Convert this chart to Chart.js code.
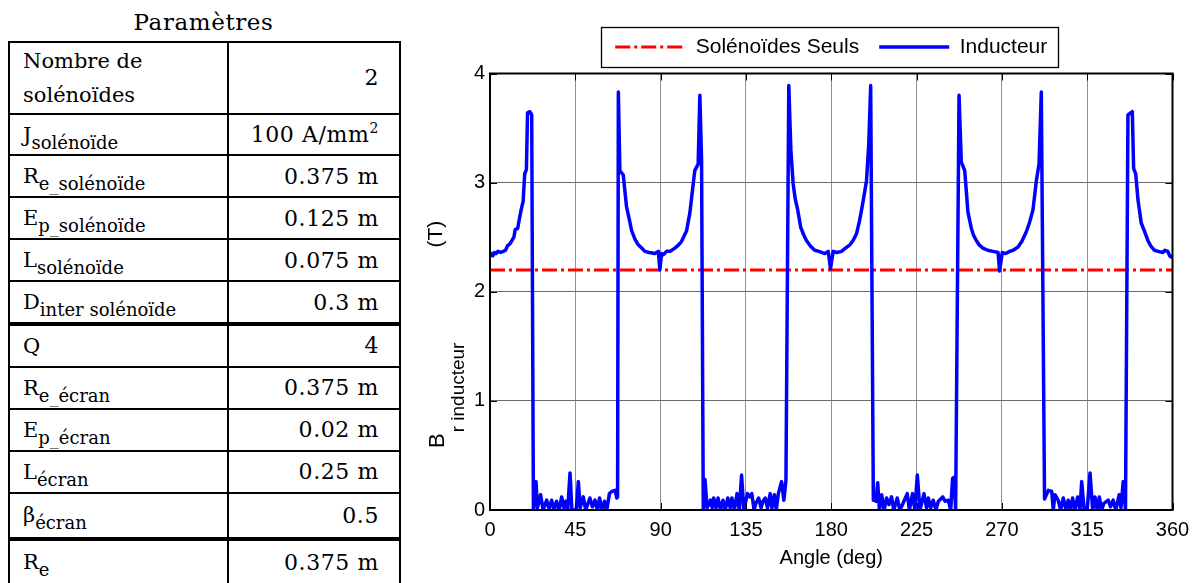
<!DOCTYPE html>
<html lang="fr">
<head>
<meta charset="utf-8">
<title>B r inducteur</title>
<script src="https://cdn.jsdelivr.net/npm/chart.js@4.4.1/dist/chart.umd.min.js"></script>
<style>
  html, body { margin: 0; padding: 0; background: #fff; }
  body { width: 1202px; height: 583px; position: relative; overflow: hidden; }
  #params-title {
    position: absolute; left: 8px; width: 391px; top: 8px;
    text-align: center; font: 23px/28px "DejaVu Serif", serif; color: #000; letter-spacing: 0.6px;
  }
  #params {
    position: absolute; left: 8px; top: 41px;
    border-collapse: collapse; table-layout: fixed; width: 391px;
    font-family: "DejaVu Serif", serif; color: #000;
  }
  #params td { border: 2px solid #000; padding: 0; height: 39.9px; vertical-align: middle; }
  #params tr.first td { height: 69.6px; }
  #params tr.tall td { height: 43px; }
  #params tr.last td { height: 43px; padding-bottom: 12px; }
  #params tr.sep td { border-bottom-width: 4px; }
  #params td.lbl { padding-left: 13px; font-size: 21px; text-align: left; }
  #params td.val { padding-right: 20px; font-size: 22px; text-align: right; letter-spacing: 0.6px; }
  #params td.two { line-height: 34px; }
  #params sub { font-size: 18px; vertical-align: -7px; line-height: 0; }
  #params sup { font-size: 14px; vertical-align: 9px; line-height: 0; }
  #chart-box { position: absolute; left: 400px; top: 0; width: 802px; height: 583px; }
</style>
</head>
<body>
<div id="params-title">Paramètres</div>
<table id="params">
  <colgroup><col style="width:219px"><col style="width:172px"></colgroup>
  <tbody>
    <tr class="first"><td class="lbl two">Nombre de<br>solénoïdes</td><td class="val">2</td></tr>
    <tr><td class="lbl">J<sub>solénoïde</sub></td><td class="val">100 A/mm<sup>2</sup></td></tr>
    <tr><td class="lbl">R<sub>e_solénoïde</sub></td><td class="val">0.375 m</td></tr>
    <tr><td class="lbl">E<sub>p_solénoïde</sub></td><td class="val">0.125 m</td></tr>
    <tr><td class="lbl">L<sub>solénoïde</sub></td><td class="val">0.075 m</td></tr>
    <tr class="sep"><td class="lbl">D<sub>inter solénoïde</sub></td><td class="val">0.3 m</td></tr>
    <tr><td class="lbl">Q</td><td class="val">4</td></tr>
    <tr><td class="lbl">R<sub>e_écran</sub></td><td class="val">0.375 m</td></tr>
    <tr><td class="lbl">E<sub>p_écran</sub></td><td class="val">0.02 m</td></tr>
    <tr><td class="lbl">L<sub>écran</sub></td><td class="val">0.25 m</td></tr>
    <tr class="sep tall"><td class="lbl">β<sub>écran</sub></td><td class="val">0.5</td></tr>
    <tr class="last"><td class="lbl">R<sub>e</sub></td><td class="val">0.375 m</td></tr>
  </tbody>
</table>

<div id="chart-box"><canvas id="brChart" width="802" height="583"></canvas></div>

<script>
// angle (deg) and radial field of the inductor (T)
const angleDeg = [
  // 0 -> 23
  0, 0.8, 1.5, 2.3, 3.2, 4.2, 5.5, 7.0, 8.2, 9.2, 10.5, 11.6, 12.6, 13.3, 14.6, 15.4, 16.3,
  17.5, 18.3, 19.2, 19.8, 21.0, 22.0, 22.9,
  // 23 -> 67
  24.3, 25.0, 26.7, 28.0, 29.9, 31.2, 32.5, 33.8, 35.1, 36.5, 37.8, 39.0, 39.9, 41.0, 42.2,
  43.2, 45.5, 46.6, 47.6, 49.2, 50.5, 52.7, 54.0, 55.4, 56.6, 57.8, 59.0, 60.4, 61.6, 63.0,
  64.3, 66.0, 66.9, 67.3,
  // 67 -> 112
  67.7, 68.5, 70.3, 72.0, 73.5, 74.7, 76.5, 78.2, 80.0, 81.7, 84.0, 87.0, 88.8, 89.6, 90.5,
  91.5, 93.1, 95.0, 97.5, 99.5, 101.0, 103.7, 105.4, 108.0, 109.8, 110.7, 111.6, 112.5,
  // 112 -> 157
  113.4, 114.5, 116.3, 117.2, 118.0, 119.2, 120.3, 121.6, 122.9, 124.1, 125.4, 126.7, 127.6,
  128.9, 130.3, 131.5, 132.7, 133.9, 135.8, 137.1, 138.1, 139.3, 140.2, 141.7, 143.0, 144.0,
  145.2, 146.4, 147.8, 148.7, 150.0, 151.0, 152.1, 153.8, 155.0, 156.1,
  // 157 -> 202
  157.6, 158.7, 159.9, 161.0, 162.2, 163.9, 165.5, 166.9, 169.0, 171.3, 173.5, 176.6, 178.4,
  179.6, 181.0, 183.0, 185.4, 187.5, 189.8, 191.5, 193.3, 194.8, 196.0, 197.5, 198.6, 199.8,
  200.8, 202.2,
  // 202 -> 247
  203.1, 203.6, 204.5, 205.4, 206.6, 207.9, 209.2, 210.5, 211.8, 213.0, 214.8, 216.2, 217.6,
  220.1, 221.2, 222.9, 224.1, 225.4, 226.8, 228.9, 230.3, 231.2, 232.4, 233.8, 235.2, 236.5,
  238.8, 240.0, 241.7, 243.0, 244.0, 244.7, 245.6,
  // 247 -> 292
  247.4, 248.6, 250.4, 252.1, 253.9, 255.0, 256.5, 258.0, 260.0, 262.5, 265.3, 268.0, 268.8,
  270.2, 272.0, 274.1, 276.0, 278.5, 280.5, 282.9, 284.5, 286.4, 288.2, 289.6, 290.8, 292.5,
  // 292 -> 337
  294.5, 296.3, 297.1, 298.0, 299.7, 301.0, 302.4, 303.8, 305.0, 306.2, 307.3, 308.6, 310.0,
  311.2, 312.1, 313.4, 315.0, 316.5, 317.9, 319.1, 320.3, 321.4, 322.6, 323.8, 326.1, 327.3,
  328.7, 330.1, 331.9, 332.8, 334.0, 335.2,
  // 337 -> 360
  336.5, 338.8, 339.5, 340.6, 341.8, 343.5, 345.3, 347.0, 348.5, 350.5, 352.5, 354.9, 356.0,
  357.5, 358.5, 360
];
const bInducteur = [
  2.32, 2.35, 2.33, 2.36, 2.35, 2.37, 2.36, 2.37, 2.38, 2.42, 2.44, 2.47, 2.50, 2.57, 2.58, 2.66, 2.74,
  2.83, 3.08, 3.12, 3.64, 3.65, 3.62, 0.0,
  0.26, 0.02, 0.14, 0.0, 0.09, 0.01, 0.09, 0.0, 0.08, 0.0, 0.12, 0.02, 0.08, 0.0, 0.34,
  0.0, 0.0, 0.26, 0.02, 0.12, 0.0, 0.11, 0.03, 0.09, 0.0, 0.11, 0.0, 0.08, 0.0, 0.15,
  0.17, 0.18, 0.11, 0.12,
  3.83, 3.11, 3.07, 2.78, 2.66, 2.56, 2.48, 2.43, 2.40, 2.37, 2.36, 2.35, 2.37, 2.20, 2.35,
  2.34, 2.37, 2.37, 2.40, 2.43, 2.46, 2.56, 2.72, 3.11, 3.17, 3.80, 3.20, 0.0,
  0.28, 0.02, 0.09, 0.02, 0.11, 0.02, 0.11, 0.0, 0.09, 0.0, 0.11, 0.02, 0.11,
  0.0, 0.15, 0.0, 0.32, 0.0, 0.15, 0.12, 0.15, 0.0, 0.06, 0.11, 0.02, 0.08,
  0.11, 0.02, 0.15, 0.02, 0.14, 0.0, 0.15, 0.26, 0.09, 0.27,
  3.89, 3.30, 2.99, 2.85, 2.76, 2.59, 2.52, 2.47, 2.42, 2.38, 2.37, 2.35, 2.37,
  2.21, 2.37, 2.36, 2.37, 2.40, 2.43, 2.47, 2.53, 2.64, 2.75, 2.90, 3.02, 3.36,
  3.89, 0.09,
  0.09, 0.08, 0.25, 0.0, 0.14, 0.0, 0.11, 0.05, 0.12, 0.0, 0.11, 0.0, 0.05,
  0.15, 0.0, 0.15, 0.0, 0.32, 0.0, 0.15, 0.02, 0.11, 0.02, 0.09, 0.0, 0.08,
  0.12, 0.08, 0.09, 0.0, 0.29, 0.30, 0.0,
  3.80, 3.19, 3.11, 2.73, 2.58, 2.52, 2.47, 2.43, 2.40, 2.38, 2.37, 2.36, 2.19,
  2.36, 2.35, 2.37, 2.38, 2.41, 2.46, 2.55, 2.63, 2.75, 3.02, 3.17, 3.83, 0.10,
  0.18, 0.17, 0.0, 0.14, 0.09, 0.0, 0.11, 0.0, 0.09, 0.0, 0.11, 0.0, 0.12,
  0.0, 0.26, 0.0, 0.0, 0.34, 0.0, 0.12, 0.0, 0.12, 0.0, 0.06, 0.09, 0.03,
  0.09, 0.0, 0.14, 0.02, 0.26, 0.0,
  3.62, 3.65, 3.13, 3.08, 2.84, 2.63, 2.55, 2.47, 2.42, 2.38, 2.37, 2.36, 2.38,
  2.37, 2.33, 2.31
];
// solenoids alone: flat level
const solenoidAngle = [0, 360];
const solenoidB = [2.2, 2.2];

const xTickValues = [0, 45, 90, 135, 180, 225, 270, 315, 360];
const yTickValues = [0, 1, 2, 3, 4];

const inducteurPoints = angleDeg.map((a, i) => ({ x: a, y: bInducteur[i] }));
const solenoidPoints = solenoidAngle.map((a, i) => ({ x: a, y: solenoidB[i] }));

Chart.defaults.font.family = '"Liberation Sans", Arial, sans-serif';
Chart.defaults.color = '#000';

// box + inward ticks like a matlab axes
const axesFrame = {
  id: 'axesFrame',
  afterDatasetsDraw(chart) {
    const { ctx, chartArea: ca, scales } = chart;
    ctx.save();
    ctx.strokeStyle = '#000';
    ctx.lineWidth = 1;
    ctx.beginPath();
    scales.x.ticks.forEach(t => {
      const px = Math.round(scales.x.getPixelForValue(t.value)) + 0.5;
      ctx.moveTo(px, ca.bottom); ctx.lineTo(px, ca.bottom - 7);
      ctx.moveTo(px, ca.top); ctx.lineTo(px, ca.top + 7);
    });
    scales.y.ticks.forEach(t => {
      const py = Math.round(scales.y.getPixelForValue(t.value)) + 0.5;
      ctx.moveTo(ca.left, py); ctx.lineTo(ca.left + 7, py);
      ctx.moveTo(ca.right, py); ctx.lineTo(ca.right - 7, py);
    });
    ctx.stroke();
    ctx.lineWidth = 2;
    ctx.strokeRect(ca.left, ca.top, ca.right - ca.left, ca.bottom - ca.top);
    ctx.restore();
  }
};

// border round the legend
const legendFrame = {
  id: 'legendFrame',
  afterDraw(chart) {
    const boxes = chart.legend && chart.legend.legendHitBoxes;
    if (!boxes || !boxes.length) return;
    const first = boxes[0], last = boxes[boxes.length - 1];
    const cy = first.top + first.height / 2;
    const left = first.left - 14, right = last.left + last.width + 11;
    const ctx = chart.ctx;
    ctx.save();
    ctx.strokeStyle = '#000';
    ctx.lineWidth = 1.3;
    ctx.strokeRect(Math.round(left) + 0.5, Math.round(cy - 20) + 0.5, Math.round(right - left), 40);
    ctx.restore();
  }
};

// y title with subscript: B_{r inducteur}  (T)
const yTitle = {
  id: 'yTitle',
  afterDraw(chart) {
    const { ctx, chartArea: ca } = chart;
    ctx.save();
    ctx.fillStyle = '#000';
    ctx.textAlign = 'left';
    ctx.textBaseline = 'alphabetic';
    ctx.translate(ca.left - 46, ca.bottom - 62);
    ctx.rotate(-Math.PI / 2);
    ctx.font = '22px "Liberation Sans", Arial, sans-serif';
    ctx.fillText('B', 0, 0);
    const bw = ctx.measureText('B').width;
    ctx.font = '19px "Liberation Sans", Arial, sans-serif';
    ctx.fillText('r inducteur', bw + 1, 20);
    ctx.restore();

    ctx.save();
    ctx.fillStyle = '#000';
    ctx.textAlign = 'left';
    ctx.textBaseline = 'alphabetic';
    ctx.translate(ca.left - 48, ca.top + 174);
    ctx.rotate(-Math.PI / 2);
    ctx.font = '21px "Liberation Sans", Arial, sans-serif';
    ctx.fillText('(T)', 0, 0);
    ctx.restore();
  }
};

new Chart(document.getElementById('brChart'), {
  type: 'line',
  data: {
    datasets: [
      {
        label: 'Inducteur',
        data: inducteurPoints,
        borderColor: '#0000ff',
        backgroundColor: '#0000ff',
        borderWidth: 3.5,
        borderJoinStyle: 'round',
        pointRadius: 0,
        pointStyle: 'line',
        tension: 0
      },
      {
        label: 'Solénoïdes Seuls',
        data: solenoidPoints,
        borderColor: '#ff0000',
        backgroundColor: '#ff0000',
        borderWidth: 3,
        borderDash: [15, 4, 3, 4],
        pointRadius: 0,
        pointStyle: 'line',
        tension: 0
      }
    ]
  },
  options: {
    responsive: false,
    animation: false,
    layout: { padding: { top: 16.5, right: 29.5, left: 0, bottom: 0 } },
    scales: {
      x: {
        type: 'linear',
        min: 0,
        max: 360,
        afterBuildTicks: axis => { axis.ticks = xTickValues.map(v => ({ value: v })); },
        afterFit: axis => { axis.height = 73; },
        ticks: { font: { size: 20 }, padding: 8, maxRotation: 0, autoSkip: false },
        grid: { color: '#8f8f8f', lineWidth: 1, drawTicks: false },
        border: { display: false },
        title: { display: true, text: 'Angle (deg)', font: { size: 20 }, padding: { top: 0, bottom: 13 } }
      },
      y: {
        min: 0,
        max: 4,
        afterBuildTicks: axis => { axis.ticks = yTickValues.map(v => ({ value: v })); },
        afterFit: axis => { axis.width = 90; },
        ticks: { font: { size: 20 }, padding: 5 },
        grid: { color: '#6a6a6a', lineWidth: 1, drawTicks: false },
        border: { display: false }
      }
    },
    plugins: {
      legend: {
        position: 'top',
        fullSize: false,
        reverse: true,
        labels: {
          usePointStyle: true,
          pointStyle: 'line',
          pointStyleWidth: 70,
          padding: 20,
          color: '#000',
          font: { size: 21 },
          // keep the dash pattern of each line in its legend sample
          generateLabels: chart => {
            const items = Chart.defaults.plugins.legend.labels.generateLabels(chart);
            items.forEach(it => {
              const ds = chart.data.datasets[it.datasetIndex];
              it.lineDash = ds.borderDash || [];
              it.lineWidth = ds.borderWidth;
              it.strokeStyle = ds.borderColor;
            });
            return items;
          }
        }
      },
      subtitle: {
        display: true,
        text: ' ',
        fullSize: false,
        weight: 500,
        font: { size: 5 },
        padding: 0
      },
      tooltip: { enabled: false }
    }
  },
  plugins: [axesFrame, legendFrame, yTitle]
});
</script>
</body>
</html>
